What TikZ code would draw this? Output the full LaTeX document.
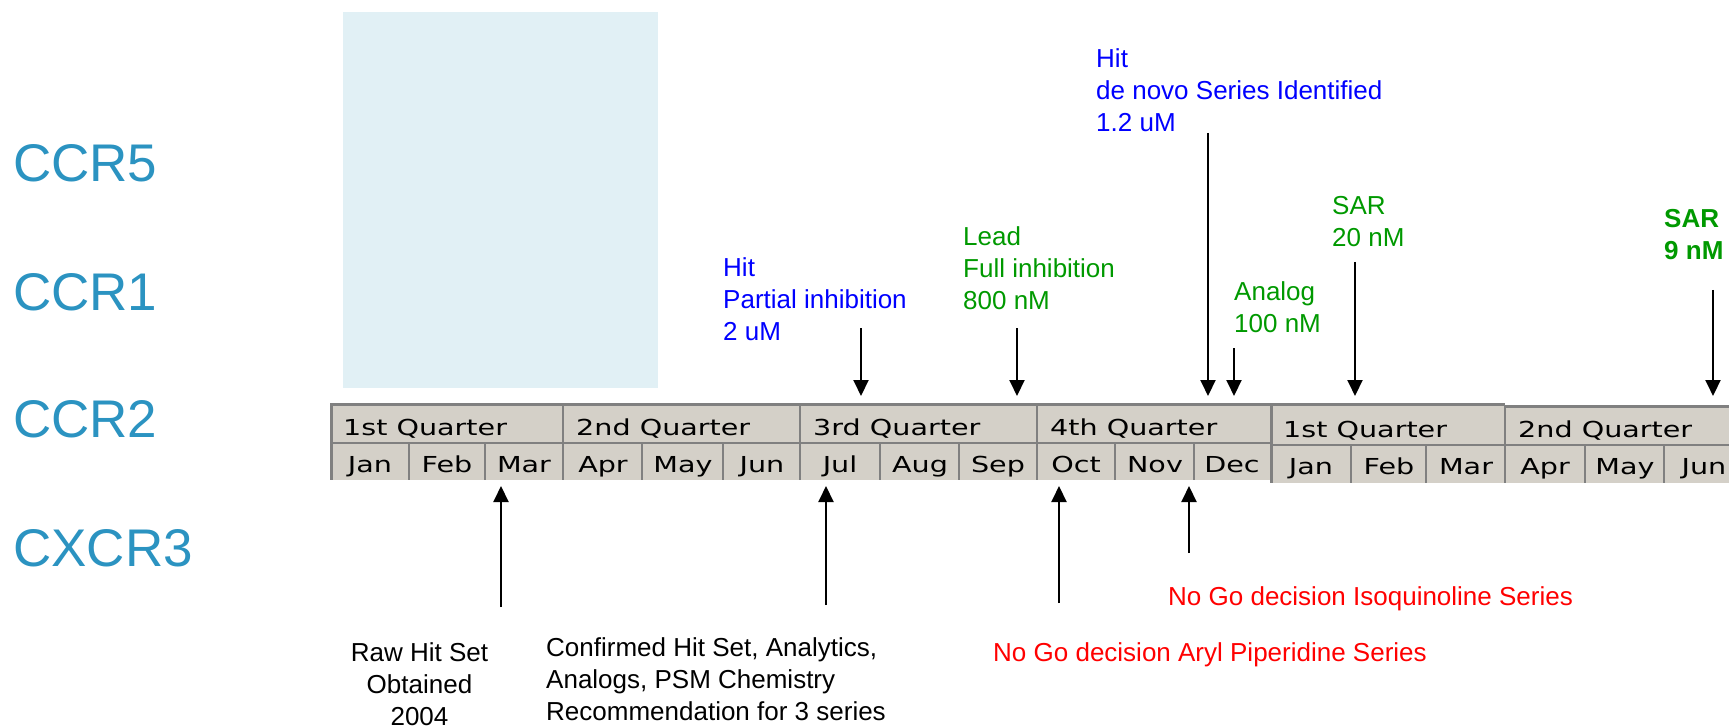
\documentclass[tikz,border=0pt]{standalone}
\usepackage{fontspec}
\setmainfont{Liberation Sans}
\newfontfamily\barfont[FakeStretch=1.3]{DejaVu Sans}
\usetikzlibrary{arrows.meta}

\definecolor{ccrblue}{RGB}{43,147,193}
\definecolor{hitblue}{RGB}{0,0,255}
\definecolor{leadgreen}{RGB}{0,153,0}
\definecolor{nogored}{RGB}{255,0,0}
\definecolor{barfill}{RGB}{212,208,200}
\definecolor{barline}{RGB}{128,128,128}
\definecolor{panelblue}{RGB}{225,240,245}

\tikzset{
  target/.style={anchor=base west, inner sep=0pt, text=ccrblue, font=\fontsize{53}{60}\selectfont},
  note/.style={anchor=base west, inner sep=0pt, align=left, font=\fontsize{26}{32}\selectfont},
  qtext/.style={anchor=base west, inner sep=0pt, font=\barfont\fontsize{22}{24}\selectfont},
  mtext/.style={anchor=base, inner sep=0pt, font=\barfont\fontsize{22}{24}\selectfont},
  divider/.style={draw=barline, line width=2.5pt},
  milestone/.style={-{Triangle[length=16pt,width=15pt]}, line width=2pt},
}

\begin{document}
\begin{tikzpicture}[x=1pt,y=-1pt]
\useasboundingbox (0,0) rectangle (1729,727);
%\draw[red] (0,0) rectangle (1729,727);
\fill[panelblue] (343,12) rectangle (658,388);

\node[target] (ccr5) at (13,182) {CCR5};
\node[target] (ccr1) at (13,310) {CCR1};
\node[target] (ccr2) at (13,437) {CCR2};
\node[target] (cxcr3) at (13,566) {CXCR3};

% first year of the bar
\fill[barfill] (330,403) rectangle (1270,480);
\draw[divider] (330,443) -- (1270,443);
\draw[draw=barline, line width=3pt] (330,404.5) -- (1270,404.5);
\foreach \x in {331.5,563,800,1037}
  \draw[divider] (\x,403) -- (\x,480);
\foreach \x in {409,485,642,723,880,959,1115,1194}
  \draw[divider] (\x,443) -- (\x,480);
\foreach \q/\x in {1st/330,2nd/563,3rd/800,4th/1037}
  \node[qtext] (qa\q) at (\x+13,435) {\q\ Quarter};
\foreach \m/\x [count=\i] in {Jan/370,Feb/447,Mar/524,Apr/603,May/683,Jun/762,Jul/840,Aug/920,Sep/998,Oct/1076,Nov/1155,Dec/1232}
  \node[mtext] (ma\i) at (\x,472) {\m};

% second year of the bar
\fill[barfill] (1270,405) rectangle (1729,483);
\draw[divider] (1270,445) -- (1729,445);
\draw[draw=barline, line width=3pt] (1270,404.5) -- (1505,404.5);
\draw[draw=barline, line width=3pt] (1505,406) -- (1729,406);
\foreach \x in {1271.5,1505}
  \draw[divider] (\x,405) -- (\x,483);
\foreach \x in {1351,1426,1585,1664}
  \draw[divider] (\x,445) -- (\x,483);
\foreach \q/\x in {1st/1270,2nd/1505}
  \node[qtext] (qb\q) at (\x+13,437) {\q\ Quarter};
\foreach \m/\x [count=\i] in {Jan/1311,Feb/1389,Mar/1466,Apr/1545,May/1625,Jun/1704}
  \node[mtext] (mb\i) at (\x,474) {\m};

% labels above and below (base = last line)
\node[note, text=hitblue] (hitA) at (723,340) {Hit\\Partial inhibition\\2 uM};
\node[note, text=leadgreen] (lead) at (963,309) {Lead\\Full inhibition\\800 nM};
\node[note, text=hitblue] (hitB) at (1096,132) {Hit\\de novo Series Identified\\1.2 uM};
\node[note, text=leadgreen] (analog) at (1234,332) {Analog\\100 nM};
\node[note, text=leadgreen] (sarA) at (1332,247) {SAR\\20 nM};
\node[note, text=leadgreen, font=\fontsize{26}{32}\selectfont\bfseries] (sarB) at (1664,260) {SAR\\9 nM};
\node[note, anchor=base, align=center] (raw) at (419.5,725) {Raw Hit Set\\Obtained\\2004};
\node[note] (confirmed) at (546,720) {Confirmed Hit Set, Analytics,\\Analogs, PSM Chemistry\\Recommendation for 3 series};
\node[note, text=nogored] (aryl) at (993,661) {No Go decision Aryl Piperidine Series};
\node[note, text=nogored] (isoq) at (1168,605) {No Go decision Isoquinoline Series};

% arrows
\foreach \n/\x/\ya/\yb in {hitA/861/328/396, lead/1017/328/396, hitB/1208/133/396,
    analog/1234/348/396, sarA/1355/262/396, sarB/1713/290/396,
    raw/501/607/486, confirmed/826/605/486, aryl/1059/603/486, isoq/1189/553/486}{
  \coordinate (\n-from) at (\x,\ya);
  \coordinate (\n-to) at (\x,\yb);
  \draw[milestone] (\n-from) -- (\n-to);
}
\end{tikzpicture}
\end{document}
